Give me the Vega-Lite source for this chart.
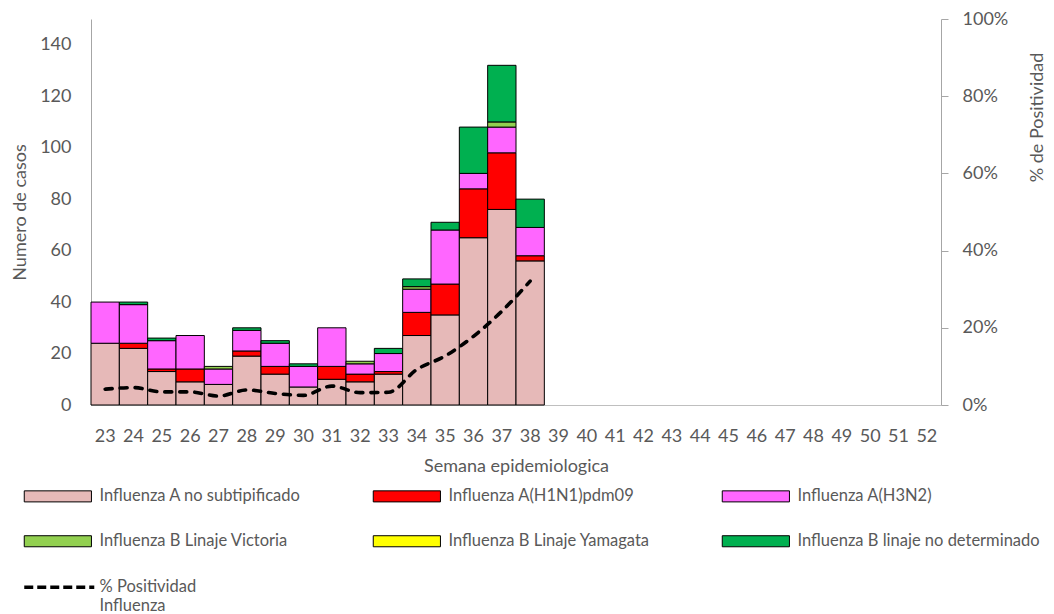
{
  "$schema": "https://vega.github.io/schema/vega-lite/v6.json",
  "width": 850,
  "height": 386,
  "autosize": {"type": "none"},
  "padding": {"left": 91, "top": 19, "right": 113, "bottom": 209},
  "config": {
    "font": "Lato",
    "view": {"stroke": null},
    "axis": {"labelColor": "#595959", "titleColor": "#595959", "domainColor": "#A6A6A6", "grid": false, "titleFontWeight": "normal", "labelFontSize": 18, "titleFontSize": 18},
    "legend": {"labelColor": "#595959", "labelFontSize": 16.5, "labelLimit": 0}
  },
  "datasets": {
    "casos": [
      {"semana": 23, "tipo": "Influenza A no subtipificado", "casos": 24},
      {"semana": 23, "tipo": "Influenza A(H3N2)", "casos": 16},
      {"semana": 24, "tipo": "Influenza A no subtipificado", "casos": 22},
      {"semana": 24, "tipo": "Influenza A(H1N1)pdm09", "casos": 2},
      {"semana": 24, "tipo": "Influenza A(H3N2)", "casos": 15},
      {"semana": 24, "tipo": "Influenza B linaje no determinado", "casos": 1},
      {"semana": 25, "tipo": "Influenza A no subtipificado", "casos": 13},
      {"semana": 25, "tipo": "Influenza A(H1N1)pdm09", "casos": 1},
      {"semana": 25, "tipo": "Influenza A(H3N2)", "casos": 11},
      {"semana": 25, "tipo": "Influenza B linaje no determinado", "casos": 1},
      {"semana": 26, "tipo": "Influenza A no subtipificado", "casos": 9},
      {"semana": 26, "tipo": "Influenza A(H1N1)pdm09", "casos": 5},
      {"semana": 26, "tipo": "Influenza A(H3N2)", "casos": 13},
      {"semana": 27, "tipo": "Influenza A no subtipificado", "casos": 8},
      {"semana": 27, "tipo": "Influenza A(H3N2)", "casos": 6},
      {"semana": 27, "tipo": "Influenza B Linaje Victoria", "casos": 1},
      {"semana": 28, "tipo": "Influenza A no subtipificado", "casos": 19},
      {"semana": 28, "tipo": "Influenza A(H1N1)pdm09", "casos": 2},
      {"semana": 28, "tipo": "Influenza A(H3N2)", "casos": 8},
      {"semana": 28, "tipo": "Influenza B linaje no determinado", "casos": 1},
      {"semana": 29, "tipo": "Influenza A no subtipificado", "casos": 12},
      {"semana": 29, "tipo": "Influenza A(H1N1)pdm09", "casos": 3},
      {"semana": 29, "tipo": "Influenza A(H3N2)", "casos": 9},
      {"semana": 29, "tipo": "Influenza B linaje no determinado", "casos": 1},
      {"semana": 30, "tipo": "Influenza A no subtipificado", "casos": 7},
      {"semana": 30, "tipo": "Influenza A(H3N2)", "casos": 8},
      {"semana": 30, "tipo": "Influenza B linaje no determinado", "casos": 1},
      {"semana": 31, "tipo": "Influenza A no subtipificado", "casos": 10},
      {"semana": 31, "tipo": "Influenza A(H1N1)pdm09", "casos": 5},
      {"semana": 31, "tipo": "Influenza A(H3N2)", "casos": 15},
      {"semana": 32, "tipo": "Influenza A no subtipificado", "casos": 9},
      {"semana": 32, "tipo": "Influenza A(H1N1)pdm09", "casos": 3},
      {"semana": 32, "tipo": "Influenza A(H3N2)", "casos": 4},
      {"semana": 32, "tipo": "Influenza B Linaje Victoria", "casos": 1},
      {"semana": 33, "tipo": "Influenza A no subtipificado", "casos": 12},
      {"semana": 33, "tipo": "Influenza A(H1N1)pdm09", "casos": 1},
      {"semana": 33, "tipo": "Influenza A(H3N2)", "casos": 7},
      {"semana": 33, "tipo": "Influenza B linaje no determinado", "casos": 2},
      {"semana": 34, "tipo": "Influenza A no subtipificado", "casos": 27},
      {"semana": 34, "tipo": "Influenza A(H1N1)pdm09", "casos": 9},
      {"semana": 34, "tipo": "Influenza A(H3N2)", "casos": 9},
      {"semana": 34, "tipo": "Influenza B Linaje Victoria", "casos": 1},
      {"semana": 34, "tipo": "Influenza B linaje no determinado", "casos": 3},
      {"semana": 35, "tipo": "Influenza A no subtipificado", "casos": 35},
      {"semana": 35, "tipo": "Influenza A(H1N1)pdm09", "casos": 12},
      {"semana": 35, "tipo": "Influenza A(H3N2)", "casos": 21},
      {"semana": 35, "tipo": "Influenza B linaje no determinado", "casos": 3},
      {"semana": 36, "tipo": "Influenza A no subtipificado", "casos": 65},
      {"semana": 36, "tipo": "Influenza A(H1N1)pdm09", "casos": 19},
      {"semana": 36, "tipo": "Influenza A(H3N2)", "casos": 6},
      {"semana": 36, "tipo": "Influenza B linaje no determinado", "casos": 18},
      {"semana": 37, "tipo": "Influenza A no subtipificado", "casos": 76},
      {"semana": 37, "tipo": "Influenza A(H1N1)pdm09", "casos": 22},
      {"semana": 37, "tipo": "Influenza A(H3N2)", "casos": 10},
      {"semana": 37, "tipo": "Influenza B Linaje Victoria", "casos": 2},
      {"semana": 37, "tipo": "Influenza B linaje no determinado", "casos": 22},
      {"semana": 38, "tipo": "Influenza A no subtipificado", "casos": 56},
      {"semana": 38, "tipo": "Influenza A(H1N1)pdm09", "casos": 2},
      {"semana": 38, "tipo": "Influenza A(H3N2)", "casos": 11},
      {"semana": 38, "tipo": "Influenza B linaje no determinado", "casos": 11}
    ],
    "positividad": [
      {"semana": 23, "serie": "% Positividad Influenza", "pct": 0.041},
      {"semana": 24, "serie": "% Positividad Influenza", "pct": 0.045},
      {"semana": 25, "serie": "% Positividad Influenza", "pct": 0.034},
      {"semana": 26, "serie": "% Positividad Influenza", "pct": 0.034},
      {"semana": 27, "serie": "% Positividad Influenza", "pct": 0.023},
      {"semana": 28, "serie": "% Positividad Influenza", "pct": 0.039},
      {"semana": 29, "serie": "% Positividad Influenza", "pct": 0.030},
      {"semana": 30, "serie": "% Positividad Influenza", "pct": 0.025},
      {"semana": 31, "serie": "% Positividad Influenza", "pct": 0.049},
      {"semana": 32, "serie": "% Positividad Influenza", "pct": 0.032},
      {"semana": 33, "serie": "% Positividad Influenza", "pct": 0.033},
      {"semana": 34, "serie": "% Positividad Influenza", "pct": 0.092},
      {"semana": 35, "serie": "% Positividad Influenza", "pct": 0.127},
      {"semana": 36, "serie": "% Positividad Influenza", "pct": 0.178},
      {"semana": 37, "serie": "% Positividad Influenza", "pct": 0.243},
      {"semana": 38, "serie": "% Positividad Influenza", "pct": 0.321}
    ]
  },
  "layer": [
    {
      "data": {"name": "casos"},
      "mark": {"type": "bar", "stroke": "black", "strokeWidth": 1},
      "encoding": {
        "x": {
          "field": "semana", "type": "ordinal",
          "scale": {"domain": [23,24,25,26,27,28,29,30,31,32,33,34,35,36,37,38,39,40,41,42,43,44,45,46,47,48,49,50,51,52], "paddingInner": 0, "paddingOuter": 0},
          "axis": {"title": "Semana epidemiologica", "labelAngle": 0, "ticks": false, "labelPadding": 22, "titlePadding": 12, "domainColor": "#BFBFBF"}
        },
        "y": {
          "field": "casos", "type": "quantitative", "stack": "zero",
          "scale": {"domain": [0, 150]},
          "axis": {"title": "Numero de casos", "values": [0,20,40,60,80,100,120,140], "ticks": false, "labelPadding": 20, "titlePadding": 10}
        },
        "fill": {
          "field": "tipo", "type": "nominal",
          "scale": {
            "domain": ["Influenza A no subtipificado", "Influenza A(H1N1)pdm09", "Influenza A(H3N2)", "Influenza B Linaje Victoria", "Influenza B Linaje Yamagata", "Influenza B linaje no determinado"],
            "range": ["#E6B9B8", "#FF0000", "#FF66FF", "#92D050", "#FFFF00", "#00B050"]
          },
          "legend": {
            "orient": "none", "legendX": -69, "legendY": 469, "direction": "horizontal", "columns": 3, "title": null,
            "symbolType": "M-1,-0.92H10.2V0.92H-1Z", "symbolSize": 144, "symbolStrokeColor": "black", "symbolStrokeWidth": 1,
            "labelOffset": 61, "columnPadding": 29, "rowPadding": 28, "gridAlign": "all"
          }
        },
        "order": {"field": "tipo", "type": "nominal", "sort": "ascending"}
      }
    },
    {
      "data": {"name": "positividad"},
      "mark": {"type": "line", "interpolate": "monotone", "strokeWidth": 3.6, "strokeDash": [7, 8], "strokeCap": "round"},
      "encoding": {
        "x": {"field": "semana", "type": "ordinal"},
        "y": {
          "field": "pct", "type": "quantitative",
          "scale": {"domain": [0, 1]},
          "axis": {"orient": "right", "title": "% de Positividad", "format": ".0%", "values": [0,0.2,0.4,0.6,0.8,1], "tickSize": 7, "tickColor": "#A6A6A6", "labelPadding": 14, "titleAngle": 270, "titleBaseline": "top", "titlePadding": 21, "titleY": 98}
        },
        "stroke": {
          "field": "serie", "type": "nominal",
          "scale": {"range": ["black"]},
          "legend": {
            "orient": "none", "legendX": -69, "legendY": 560, "title": null,
            "symbolType": "M-1,0H10.67", "symbolSize": 144, "symbolStrokeWidth": 3.5, "symbolDash": [9, 4],
            "labelOffset": 61, "labelExpr": "['% Positividad', 'Influenza']"
          }
        }
      }
    }
  ],
  "resolve": {"scale": {"y": "independent"}}
}
